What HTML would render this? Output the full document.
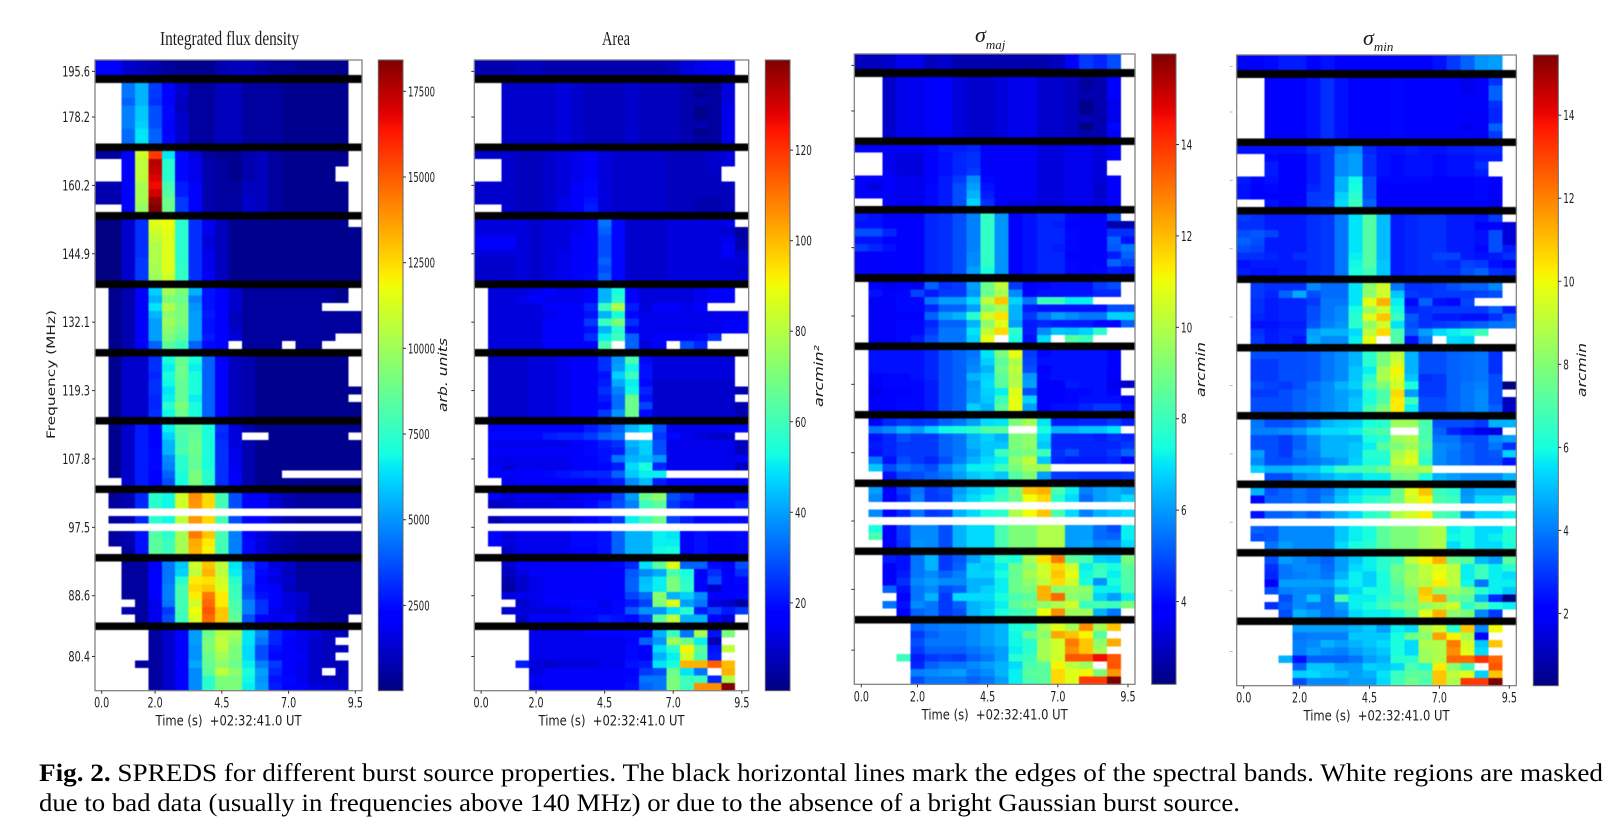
<!DOCTYPE html>
<html lang="en">
<head>
<meta charset="utf-8">
<title>SPREDS for different burst source properties</title>
<style>
html,body{margin:0;padding:0;background:#fff;width:1619px;height:838px;overflow:hidden}
svg{display:block}
text{fill:#1c1c1c}
.tick{font-family:"DejaVu Sans","Liberation Sans",sans-serif;font-size:14px;white-space:pre}
.cbtick{font-family:"DejaVu Sans","Liberation Sans",sans-serif;font-size:13px}
.serif{font-family:"Liberation Serif",serif}
.caption{font-family:"Liberation Serif",serif;font-size:25px;fill:#000}
</style>
</head>
<body>
<svg id="figure" xmlns="http://www.w3.org/2000/svg" width="1619" height="838" viewBox="0 0 1619 838">
<defs id="grads"></defs>
<text class="serif" x="160" y="45" font-size="20" textLength="139" lengthAdjust="spacingAndGlyphs">Integrated flux density</text>
<text class="serif" x="602" y="45" font-size="20" textLength="28" lengthAdjust="spacingAndGlyphs">Area</text>
<text class="serif" x="975" y="42" font-size="22" font-style="italic">σ<tspan font-size="13" dy="7">maj</tspan></text>
<text class="serif" x="1363" y="45" font-size="22" font-style="italic">σ<tspan font-size="13" dy="6">min</tspan></text>
<text font-family="DejaVu Sans" font-size="14" transform="translate(55,439) rotate(-90) scale(1,.8)" textLength="129" lengthAdjust="spacingAndGlyphs">Frequency (MHz)</text>
<text font-family="DejaVu Sans" font-style="italic" font-size="14" transform="translate(447,412) rotate(-90) scale(1,.88)" textLength="74" lengthAdjust="spacingAndGlyphs">arb. units</text>
<text font-family="DejaVu Sans" font-style="italic" font-size="14" transform="translate(823,407) rotate(-90) scale(1,.88)" textLength="62" lengthAdjust="spacingAndGlyphs">arcmin²</text>
<text font-family="DejaVu Sans" font-style="italic" font-size="14" transform="translate(1205,397) rotate(-90) scale(1,.88)" textLength="55" lengthAdjust="spacingAndGlyphs">arcmin</text>
<text font-family="DejaVu Sans" font-style="italic" font-size="14" transform="translate(1586,397) rotate(-90) scale(1,.88)" textLength="54" lengthAdjust="spacingAndGlyphs">arcmin</text>
<text class="caption" x="39" y="781" textLength="1564" lengthAdjust="spacingAndGlyphs"><tspan font-weight="bold">Fig. 2.</tspan> SPREDS for different burst source properties. The black horizontal lines mark the edges of the spectral bands. White regions are masked</text>
<text class="caption" x="39" y="811" textLength="1201" lengthAdjust="spacingAndGlyphs">due to bad data (usually in frequencies above 140 MHz) or due to the absence of a bright Gaussian burst source.</text>
</svg>
<script>
const _ = null;
/* chart data: cell values as a percentage of each panel's colour range; _ = masked */
const bandEdgeRows = [2,11,20,29,38,47,56,65,74];
const freqLabels = ["195.6","178.2","160.2","144.9","132.1","119.3","107.8","97.5","88.6","80.4"];
const freqTickRows = [1,7,16,25,34,43,52,61,70,78];
const timeLabels = ["0.0","2.0","4.5","7.0","9.5"];
const timeTickCols = [0,4,9,14,19];
const fluxTicks = [2500,5000,7500,10000,12500,15000,17500];
const areaTicks = [20,40,60,80,100,120];
const sigmaMajTicks = [4,6,8,10,12,14];
const sigmaMinTicks = [2,4,6,8,10,12,14];
const fluxRange = [12,18413];
const areaRange = [0.6,139.9];
const sigmaMajRange = [2.19,15.98];
const sigmaMinRange = [0.26,15.45];

const fluxCells = [
[12,12,8,7,6,5,4,4,4,6,7,7,6,5,5,4,4,4,4,_],
[12,12,8,7,6,5,4,4,4,6,7,7,6,5,5,4,4,4,4,_],
[_,_,24,30,18,12,8,5,5,7,7,5,5,5,4,4,4,4,4,_],
[_,_,24,30,18,12,8,5,5,7,7,5,5,5,4,4,4,4,4,_],
[_,_,22,30,17,12,7,5,5,7,7,5,5,5,4,4,4,4,4,_],
[_,_,25,32,20,13,7,5,5,7,7,5,5,5,4,4,4,4,4,_],
[_,_,25,32,20,13,8,5,5,7,7,5,5,5,4,4,4,4,4,_],
[_,_,25,33,20,12,8,5,5,7,7,5,5,5,4,4,4,4,4,_],
[_,_,23,35,22,12,8,5,5,7,7,5,5,5,4,4,4,4,4,_],
[_,_,23,35,22,13,8,5,5,7,7,5,5,5,4,4,4,4,4,_],
[5,5,12,60,85,35,13,9,5,4,4,6,7,5,4,4,4,4,4,_],
[_,_,12,58,95,40,13,10,6,5,4,6,7,5,4,4,4,4,4,_],
[_,_,12,58,94,40,13,10,6,5,4,6,7,5,4,4,4,4,_,_],
[_,_,12,58,92,40,13,10,6,5,4,6,7,5,4,4,4,4,_,_],
[6,6,12,55,90,43,15,11,6,5,5,7,7,5,4,4,4,4,4,_],
[6,6,12,55,93,45,15,11,6,5,5,7,7,5,4,4,4,4,4,_],
[6,6,12,55,98,48,18,12,6,5,5,8,7,5,4,4,4,4,4,_],
[_,_,12,53,100,48,18,12,6,5,5,8,7,5,4,4,4,4,4,_],
[3,3,8,17,62,64,40,17,10,7,4,4,4,4,4,4,4,4,4,_],
[3,3,8,17,60,63,40,17,10,7,4,4,4,4,4,4,4,4,4,4],
[3,3,8,17,58,62,40,17,9,7,4,4,4,4,4,4,4,4,4,4],
[3,3,8,17,56,62,40,17,9,7,4,4,4,4,4,4,4,4,4,4],
[3,3,8,17,56,62,40,17,10,7,4,4,4,4,4,4,4,4,4,4],
[3,3,8,18,56,62,40,17,10,7,4,4,4,4,4,4,4,4,4,4],
[3,3,8,18,55,62,41,17,10,7,4,4,4,4,4,4,4,4,4,4],
[3,3,8,18,54,60,41,17,11,7,4,4,4,4,4,4,4,4,4,4],
[_,4,6,11,33,55,50,30,14,12,8,5,5,5,5,5,5,5,4,_],
[_,4,6,11,30,50,48,25,14,12,8,5,5,5,5,5,5,5,4,_],
[_,4,6,11,35,56,50,27,14,12,8,5,5,5,5,5,5,_,_,_],
[_,4,6,11,30,52,50,28,15,12,7,5,5,5,5,5,5,5,5,5],
[_,4,6,11,28,54,50,28,14,12,7,5,5,5,5,5,5,5,5,5],
[_,4,6,11,28,52,48,28,14,12,8,5,5,5,5,5,5,5,5,5],
[_,4,6,11,28,50,46,28,15,12,9,5,5,5,5,5,5,5,_,_],
[_,4,6,11,22,46,42,22,13,12,_,5,5,5,_,5,5,_,_,_],
[_,4,8,8,17,38,47,38,22,12,7,6,4,4,4,4,4,4,4,_],
[_,4,8,8,17,36,48,36,22,12,7,6,4,4,4,4,4,4,4,_],
[_,4,8,8,16,38,48,38,22,12,7,6,4,4,4,4,4,4,4,_],
[_,4,8,8,17,37,47,38,22,12,7,6,4,4,4,4,4,4,4,_],
[_,4,8,8,17,35,47,38,22,12,7,6,4,4,4,4,4,4,4,4],
[_,4,8,8,16,36,47,36,22,12,7,6,4,4,4,4,4,4,4,_],
[_,4,8,8,16,40,50,38,22,12,7,6,4,4,4,4,4,4,4,4],
[_,4,8,8,17,37,48,38,22,12,7,6,4,4,4,4,4,4,4,4],
[_,4,8,15,12,36,45,46,38,17,9,6,4,4,4,4,4,4,4,4],
[_,4,8,15,12,33,44,47,38,16,9,_,_,4,4,4,4,4,4,_],
[_,4,8,15,12,30,43,48,38,17,9,6,4,4,4,4,4,4,4,4],
[_,4,8,15,13,30,44,48,38,17,10,6,4,4,4,4,4,4,4,4],
[_,4,8,15,13,26,40,47,38,17,10,6,4,4,4,4,4,4,4,4],
[_,4,8,15,13,25,40,47,38,17,10,6,4,4,4,4,4,4,4,4],
[_,4,8,15,12,22,38,50,40,17,11,6,4,4,_,_,_,_,_,_],
[_,_,8,15,12,20,38,50,40,17,11,6,4,4,4,4,4,4,4,4],
[_,5,6,16,40,37,60,76,68,43,20,12,12,8,6,5,5,5,5,5],
[_,5,6,16,40,37,60,75,68,43,20,12,12,8,6,5,5,5,5,5],
[_,_,_,_,_,_,_,_,_,_,_,_,_,_,_,_,_,_,_,_],
[_,5,6,16,40,37,58,75,68,43,20,12,12,8,6,5,5,5,5,5],
[_,_,_,_,_,_,_,_,_,_,_,_,_,_,_,_,_,_,_,_],
[_,5,6,14,45,40,55,78,70,43,25,12,9,7,6,5,5,5,5,5],
[_,5,6,14,46,42,55,73,66,43,25,13,9,7,6,5,5,5,5,5],
[_,_,5,14,46,42,55,72,65,43,25,13,9,7,6,5,5,5,5,5],
[_,_,5,5,12,24,32,60,70,58,35,20,14,9,8,5,5,5,5,5],
[_,_,5,5,12,24,33,58,72,58,36,22,13,10,7,5,5,5,5,5],
[_,_,5,5,12,24,40,66,67,60,40,22,12,9,8,5,5,5,5,5],
[_,_,5,5,12,25,44,68,70,62,42,20,13,12,7,5,5,5,5,5],
[_,_,5,5,12,25,43,66,78,66,42,21,14,12,9,8,5,5,5,5],
[_,_,_,5,10,24,43,60,80,66,44,25,17,12,9,8,5,5,5,5],
[_,_,6,5,10,18,43,64,82,70,45,25,17,10,9,7,5,5,5,5],
[_,_,_,5,10,20,42,62,80,70,47,20,12,10,11,7,6,5,5,_],
[_,_,_,_,5,8,12,28,48,57,55,35,26,16,13,10,9,7,7,_],
[_,_,_,_,5,8,12,28,50,58,52,35,24,16,12,10,8,7,_,_],
[_,_,_,_,5,8,12,27,50,58,50,34,20,14,12,10,8,7,7,_],
[_,_,_,_,5,8,12,27,48,54,50,34,20,13,12,11,8,7,_,_],
[_,_,_,5,5,8,12,29,47,52,48,36,25,18,12,10,8,7,7,_],
[_,_,_,_,5,8,12,26,46,58,52,38,28,16,12,10,8,_,7,_],
[_,_,_,_,5,8,12,26,40,50,50,37,27,14,13,10,8,7,7,_],
[_,_,_,_,5,8,12,26,40,50,50,36,28,15,12,11,9,9,8,_]
];

const areaCells = [
[6,6,6,7,7,6,6,6,6,6,6,6,6,6,7,9,10,11,12,_],
[6,6,6,7,7,6,6,6,6,6,6,6,6,6,7,9,10,11,12,_],
[_,_,8,8,8,8,9,8,7,7,7,8,7,7,7,6,5,5,9,_],
[_,_,8,8,8,8,9,8,7,7,7,8,7,7,7,6,4,5,9,_],
[_,_,8,8,8,8,9,8,7,7,7,8,7,7,7,6,6,5,9,_],
[_,_,8,8,8,8,9,8,7,7,7,8,7,7,7,6,4,5,10,_],
[_,_,8,8,8,8,9,8,7,7,7,8,7,7,7,6,4,5,10,_],
[_,_,8,8,8,8,9,8,7,7,7,8,7,7,7,6,6,5,10,_],
[_,_,8,8,8,8,9,8,7,7,7,8,7,7,7,6,4,5,10,_],
[_,_,8,8,8,8,9,8,7,7,7,8,7,7,7,6,5,5,10,_],
[8,8,8,7,7,8,9,10,11,9,8,8,8,8,7,7,7,8,9,_],
[_,_,8,7,7,8,9,10,11,9,8,8,8,8,7,7,7,8,9,_],
[_,_,8,7,7,8,9,10,11,9,8,8,8,8,7,7,7,8,_,_],
[_,_,8,7,7,8,9,10,11,9,8,8,8,8,7,7,7,7,_,_],
[8,8,8,7,7,8,9,11,13,9,8,8,8,8,7,7,7,7,7,_],
[8,8,8,7,7,8,9,11,13,9,8,8,8,8,7,7,7,7,7,_],
[8,8,8,7,7,8,10,12,14,9,8,8,8,8,7,7,6,6,7,_],
[_,_,8,7,7,8,10,12,15,9,8,8,8,8,7,7,6,6,7,_],
[9,9,9,9,8,9,9,10,12,24,13,8,8,8,9,9,9,9,10,_],
[9,9,9,9,8,9,9,10,12,22,13,8,8,8,9,9,9,9,8,5],
[11,11,11,9,8,9,9,11,12,20,13,8,8,8,9,9,9,9,10,6],
[11,11,11,9,8,9,9,11,12,20,13,8,8,8,9,9,9,9,11,6],
[9,9,9,9,8,9,10,11,12,20,13,8,8,8,9,9,9,9,11,8],
[8,8,8,9,8,9,10,11,12,22,13,8,8,8,9,9,9,9,9,9],
[8,8,8,9,8,9,10,11,12,20,13,8,8,8,9,9,9,9,9,8],
[8,8,8,9,8,9,10,11,13,22,13,8,8,8,9,9,9,9,9,9],
[_,9,9,9,10,12,10,10,12,30,38,12,9,9,9,9,10,11,12,_],
[_,9,9,10,12,10,10,10,12,30,40,12,9,9,9,9,10,11,11,_],
[_,9,9,9,9,11,12,12,16,42,56,15,9,12,11,10,12,_,_,_],
[_,9,9,9,9,10,11,11,14,30,38,13,10,10,10,10,10,10,10,10],
[_,9,9,9,9,11,12,12,18,42,50,17,10,10,10,10,10,10,11,12],
[_,9,9,9,9,11,11,11,14,30,40,13,10,10,10,10,10,10,11,12],
[_,9,9,9,9,12,12,12,17,36,42,22,10,12,12,12,13,17,_,_],
[_,9,9,9,9,12,12,12,12,44,_,22,9,12,_,20,16,_,_,_],
[_,8,8,8,9,9,10,11,11,17,27,44,13,9,9,9,9,9,9,_],
[_,8,8,8,9,9,10,11,11,17,28,37,14,9,9,9,9,9,9,_],
[_,8,8,8,9,9,10,11,11,14,33,42,14,9,9,9,9,9,9,_],
[_,8,8,8,9,9,10,11,11,15,29,36,13,8,8,8,8,8,8,_],
[_,8,8,8,9,9,10,11,11,17,25,37,16,8,8,8,8,8,8,6],
[_,8,8,8,9,9,10,11,11,15,23,48,14,8,8,8,8,8,8,_],
[_,8,8,8,9,9,10,11,11,13,23,48,19,8,8,8,8,8,8,6],
[_,8,8,8,9,9,10,11,12,18,27,48,13,8,8,8,8,8,8,6],
[_,11,11,11,11,11,11,12,15,18,22,30,35,20,10,10,10,10,11,12],
[_,13,13,13,13,15,16,16,18,22,24,_,_,18,13,10,9,8,8,_],
[_,10,10,10,10,10,10,11,13,15,17,30,33,20,10,10,10,10,10,7],
[_,11,11,11,11,11,11,11,13,14,15,28,33,20,10,10,10,10,10,7],
[_,10,10,10,10,10,10,11,12,14,24,30,31,27,10,10,10,10,10,11],
[_,11,9,10,10,10,10,11,12,13,15,34,38,16,10,10,10,10,10,7],
[_,12,12,12,12,13,14,15,16,16,22,32,36,36,_,_,_,_,_,_],
[_,_,10,11,11,11,12,12,12,14,15,26,31,15,12,12,12,12,12,12],
[_,12,9,10,10,10,9,10,11,13,19,28,48,52,20,17,12,12,12,12],
[_,7,8,9,9,9,10,10,13,16,20,25,42,46,18,14,12,12,12,15],
[_,_,_,_,_,_,_,_,_,_,_,_,_,_,_,_,_,_,_,_],
[_,6,8,8,8,8,8,10,12,14,18,36,42,48,19,15,12,12,13,13],
[_,_,_,_,_,_,_,_,_,_,_,_,_,_,_,_,_,_,_,_],
[_,12,9,10,10,10,10,13,13,14,22,30,30,36,35,12,14,12,12,13],
[_,12,9,10,10,10,10,13,13,14,22,30,30,36,36,12,14,12,12,13],
[_,_,8,10,10,10,10,12,12,14,22,30,30,37,38,12,14,12,12,13],
[_,_,8,11,11,11,11,11,11,12,13,16,35,46,62,22,22,13,11,20],
[_,_,7,9,11,11,11,11,11,11,12,21,26,29,44,38,12,17,12,17],
[_,_,6,8,10,11,11,11,11,11,12,22,31,36,50,40,12,20,12,13],
[_,_,5,8,10,11,11,11,11,11,12,22,32,36,50,41,12,8,12,12],
[_,_,9,10,10,11,11,11,11,11,12,19,23,52,30,33,26,12,12,13],
[_,_,_,8,10,11,11,13,13,10,13,15,19,50,62,28,24,9,8,5],
[_,_,8,9,9,9,9,11,12,11,13,21,27,27,35,40,15,19,15,18],
[_,_,_,8,11,11,11,12,13,15,14,13,18,46,58,30,30,11,9,_],
[_,_,_,_,10,10,10,10,11,12,12,13,13,30,42,24,55,14,50,_],
[_,_,_,_,10,10,10,10,10,10,10,12,22,27,55,48,36,6,_,_],
[_,_,_,_,10,10,10,10,10,10,10,13,12,34,40,65,46,14,58,_],
[_,_,_,_,10,10,10,10,10,10,10,13,11,30,36,60,44,15,_,_],
[_,_,_,15,9,8,9,9,9,10,10,14,15,35,38,72,72,81,71,_],
[_,_,_,_,9,11,11,11,11,11,11,12,18,20,48,35,24,_,72,_],
[_,_,_,_,11,11,11,11,11,11,11,13,24,24,50,42,42,16,56,_],
[_,_,_,_,10,11,11,11,11,11,11,14,22,24,50,42,76,76,100,_]
];

const sigmaMajCells = [
[7,7,8,10,10,7,8,6,6,6,6,6,6,6,7,11,18,16,20,_],
[7,7,8,10,10,7,8,6,6,6,6,6,6,6,7,11,18,16,20,_],
[_,_,8,10,10,11,12,9,8,8,9,10,10,8,8,7,5,6,11,_],
[_,_,8,10,10,11,12,9,8,8,9,10,10,8,8,7,5,6,11,_],
[_,_,8,10,10,11,12,9,8,8,9,10,10,8,8,7,6,6,12,_],
[_,_,8,10,10,11,12,9,8,8,9,10,10,8,8,7,4,6,10,_],
[_,_,8,10,10,11,12,9,8,8,9,10,10,8,8,7,4,6,10,_],
[_,_,8,10,10,11,12,9,8,8,9,10,10,8,8,7,7,6,10,_],
[_,_,8,10,10,11,12,9,8,8,9,10,10,8,8,7,3,6,13,_],
[_,_,8,10,10,11,12,9,8,8,9,10,10,8,8,7,6,6,11,_],
[11,11,11,11,11,13,15,15,16,11,11,11,11,9,9,10,10,9,11,_],
[_,_,10,9,9,12,14,16,17,11,11,11,11,9,9,10,10,9,11,_],
[_,_,10,9,9,12,14,16,17,11,11,11,11,9,9,10,10,9,_,_],
[_,_,10,9,9,12,14,16,18,11,11,11,11,9,9,10,10,9,_,_],
[11,11,11,10,10,12,15,18,26,13,11,11,11,9,9,10,10,9,11,_],
[11,9,11,10,10,13,15,20,28,14,11,11,11,9,9,10,10,8,11,_],
[11,11,11,10,10,13,15,20,30,15,11,11,11,9,9,10,10,8,11,_],
[_,_,11,10,10,13,15,20,33,17,11,10,10,9,9,10,10,9,11,_],
[15,14,12,12,12,16,17,20,25,41,27,12,14,16,16,13,12,11,20,_],
[14,14,12,12,12,16,17,20,25,41,27,12,14,16,15,12,11,11,6,6],
[20,20,16,12,12,16,17,20,25,41,27,12,14,16,16,13,12,11,17,17],
[14,14,12,12,12,16,17,20,25,41,27,12,14,16,16,13,12,11,22,14],
[18,16,14,12,12,16,17,20,25,41,27,12,14,16,15,13,12,11,21,24],
[11,11,12,12,12,16,17,20,26,41,27,12,14,16,16,11,11,12,15,22],
[11,11,12,12,12,16,17,20,26,41,27,12,14,16,16,13,12,11,22,19],
[11,11,12,12,12,16,17,20,28,38,27,12,14,16,16,13,12,13,15,14],
[_,12,10,11,10,22,17,18,28,48,58,18,12,13,14,14,14,18,20,_],
[_,14,11,13,19,15,18,18,27,48,55,26,11,14,14,14,14,16,16,_],
[_,11,11,13,13,24,28,28,34,58,70,33,24,42,42,36,36,_,_,_],
[_,11,11,13,13,16,22,22,28,50,55,30,15,14,14,14,14,14,20,20],
[_,11,11,12,12,22,28,30,40,60,67,30,18,24,28,26,24,24,33,33],
[_,11,11,13,13,16,22,22,30,52,62,28,15,16,15,15,15,13,13,22],
[_,11,11,13,13,18,24,24,35,58,68,40,15,26,32,31,33,40,_,_],
[_,11,11,13,15,20,24,24,33,63,_,38,14,34,_,45,42,_,_,_],
[_,14,14,14,14,16,20,22,24,35,50,63,18,13,14,14,14,14,12,_],
[_,14,14,14,14,16,20,22,25,33,46,56,19,14,14,14,14,14,12,_],
[_,14,14,14,14,16,20,22,26,30,48,58,20,11,14,14,14,14,12,_],
[_,12,13,13,14,16,20,22,30,33,46,56,27,13,14,14,14,14,11,_],
[_,11,13,13,13,15,20,22,27,34,46,57,28,12,11,15,14,14,10,8],
[_,10,12,12,13,15,20,22,28,33,36,62,20,12,12,13,13,14,11,_],
[_,12,12,13,13,15,20,22,28,32,42,63,33,11,12,13,14,14,14,12],
[_,11,12,13,13,15,20,22,33,30,46,63,28,12,14,14,16,18,18,14],
[_,12,16,18,17,18,22,24,28,34,35,50,55,35,15,15,16,16,18,15],
[_,24,26,30,28,33,37,38,40,45,46,_,_,38,30,30,32,32,35,_],
[_,14,16,20,18,18,22,24,30,33,30,50,52,34,16,16,16,15,17,16],
[_,15,16,18,18,18,22,24,30,32,32,50,52,32,16,16,16,16,16,18],
[_,14,16,18,18,18,22,24,28,32,42,48,50,42,17,20,16,16,18,22],
[_,24,14,20,18,16,20,25,30,34,36,52,58,32,16,15,15,15,16,12],
[_,32,20,24,22,20,26,30,36,36,42,50,55,55,_,_,_,_,_,_],
[_,_,14,19,20,22,24,28,32,34,32,45,50,28,18,18,17,17,17,18],
[_,28,12,18,24,18,20,28,32,34,40,50,70,72,44,36,25,28,30,28],
[_,26,11,16,25,18,19,30,34,37,42,48,64,68,40,34,23,28,30,34],
[_,_,_,_,_,_,_,_,_,_,_,_,_,_,_,_,_,_,_,_],
[_,26,12,16,24,18,19,30,34,38,40,56,64,70,44,34,25,30,32,34],
[_,_,_,_,_,_,_,_,_,_,_,_,_,_,_,_,_,_,_,_],
[_,38,12,18,26,26,20,30,34,34,44,50,50,56,56,28,28,23,20,36],
[_,44,12,18,26,26,20,30,34,34,44,50,50,56,56,28,28,23,22,36],
[_,_,12,17,27,26,20,30,34,34,44,50,50,56,56,28,29,25,26,34],
[_,_,15,14,24,30,18,21,28,33,40,38,55,67,78,46,44,33,32,50],
[_,_,11,14,24,30,18,22,33,32,36,48,52,60,68,60,36,42,38,46],
[_,_,12,15,24,26,22,25,33,33,38,47,55,60,70,63,37,42,36,45],
[_,_,11,17,26,28,26,26,30,30,36,48,52,58,68,60,38,27,38,44],
[_,_,22,14,24,26,20,22,30,33,36,48,50,72,52,54,52,36,36,44],
[_,_,_,12,24,30,18,34,34,34,38,44,46,72,80,52,50,33,28,36],
[_,_,24,14,26,24,18,22,30,32,36,46,50,52,56,60,42,44,42,50],
[_,_,_,12,22,24,18,20,30,33,38,42,44,64,76,54,54,30,24,_],
[_,_,_,_,22,24,25,25,26,28,30,38,40,55,62,55,76,55,70,_],
[_,_,_,_,18,22,24,24,26,28,30,37,48,52,73,70,65,46,_,_],
[_,_,_,_,20,24,24,24,26,28,30,37,40,55,60,78,70,52,73,_],
[_,_,_,_,18,22,22,22,24,26,28,36,40,55,60,76,70,55,_,_],
[_,_,_,42,15,18,19,18,22,24,28,40,42,55,60,82,82,90,82,_],
[_,_,_,_,16,22,24,24,26,28,30,34,44,46,65,58,54,_,82,_],
[_,_,_,_,25,26,27,28,24,26,30,36,46,46,68,62,65,50,75,_],
[_,_,_,_,20,24,24,24,22,24,28,36,44,46,68,62,85,85,100,_]
];

const sigmaMinCells = [
[12,12,13,15,15,12,14,12,12,12,12,12,12,12,14,18,22,27,28,_],
[12,12,13,15,15,12,14,12,12,12,12,12,12,12,14,18,22,27,28,_],
[_,_,12,12,12,14,17,14,12,12,12,13,12,12,12,12,10,11,17,_],
[_,_,12,12,12,14,17,14,12,12,12,13,12,12,12,12,10,11,22,_],
[_,_,12,12,12,14,17,14,12,12,12,13,12,12,12,12,11,11,22,_],
[_,_,12,12,12,14,17,14,12,12,12,13,12,12,12,12,11,12,17,_],
[_,_,12,12,12,14,17,14,12,12,12,13,12,12,12,12,11,11,16,_],
[_,_,12,12,12,14,17,14,12,12,12,13,12,12,12,12,11,11,16,_],
[_,_,12,12,12,14,17,14,12,12,12,13,12,12,12,12,10,11,22,_],
[_,_,12,12,12,14,17,14,12,12,12,13,12,12,12,12,12,11,18,_],
[14,14,14,14,14,17,18,24,26,16,14,14,15,14,14,15,15,16,16,_],
[_,_,13,12,12,15,18,26,28,17,14,13,14,14,13,14,14,15,15,_],
[_,_,15,12,12,15,18,26,28,17,14,13,14,14,13,14,14,17,_,_],
[_,_,15,12,12,15,18,26,28,17,14,13,14,14,13,14,14,15,_,_],
[15,13,14,12,12,15,18,30,37,20,13,13,13,13,12,12,12,13,12,_],
[14,12,13,12,12,16,18,30,38,20,12,12,12,12,12,12,12,13,11,_],
[14,12,12,12,12,18,18,33,40,20,12,12,12,12,12,12,12,13,11,_],
[_,_,14,12,13,18,19,34,42,22,12,12,12,12,11,12,12,12,10,_],
[18,17,15,15,15,17,18,24,35,45,31,15,16,17,17,15,15,14,18,_],
[17,17,15,15,15,17,18,24,35,45,31,15,16,17,17,15,15,12,12,9],
[20,21,19,15,15,17,18,24,35,45,31,15,16,17,17,15,15,14,20,9],
[22,20,15,15,15,17,18,24,35,45,31,15,16,17,17,15,15,14,20,9],
[20,19,15,15,15,17,18,24,35,45,31,15,16,17,17,15,15,13,20,15],
[17,17,16,15,17,17,18,24,36,45,31,15,16,17,19,19,15,14,15,17],
[14,15,15,15,15,17,18,24,37,45,32,15,16,17,17,16,19,18,14,11],
[15,14,14,15,15,17,18,24,38,42,32,15,16,17,17,17,20,22,17,16],
[_,18,17,17,17,26,23,23,35,52,60,24,17,17,18,20,22,22,26,_],
[_,18,16,22,29,20,23,23,35,52,60,32,18,17,18,18,18,19,20,_],
[_,17,15,16,16,18,24,24,35,63,72,36,13,22,14,13,19,_,_,_],
[_,17,15,16,16,20,24,26,38,54,60,38,16,17,18,18,18,18,22,15],
[_,16,15,16,16,20,24,26,40,62,70,42,21,17,15,15,14,14,17,22],
[_,14,14,15,15,21,25,27,40,52,60,35,20,17,18,19,21,22,24,24],
[_,17,15,16,16,28,30,30,34,58,68,44,22,28,34,36,38,42,_,_],
[_,18,15,16,14,29,26,26,36,63,_,45,14,24,_,34,33,_,_,_],
[_,20,20,20,20,21,24,26,30,40,50,58,30,20,20,22,23,24,17,_],
[_,18,18,20,20,21,24,26,30,40,50,60,30,20,20,22,23,24,17,_],
[_,18,18,20,20,21,24,26,32,36,55,65,30,20,20,22,23,24,17,_],
[_,18,18,20,20,21,24,26,32,40,56,62,32,17,18,22,23,24,20,_],
[_,20,19,18,20,24,26,30,33,44,50,60,38,18,18,22,24,25,20,3],
[_,18,18,20,22,23,26,28,30,38,44,68,28,18,18,22,24,26,20,_],
[_,20,20,20,22,24,26,28,32,38,45,66,42,20,20,22,24,26,20,7],
[_,20,20,20,22,24,26,28,32,43,50,66,36,20,20,22,24,26,22,8],
[_,24,20,20,22,25,30,32,33,38,40,54,54,44,20,20,20,18,30,30],
[_,25,25,26,28,32,34,34,36,42,44,_,_,44,22,16,14,10,9,_],
[_,20,20,18,22,26,30,30,30,38,40,54,56,44,24,24,20,20,26,28],
[_,20,20,18,22,26,30,30,32,36,46,50,54,46,26,25,22,20,24,17],
[_,28,20,18,24,25,30,30,32,40,40,55,60,42,26,24,22,20,21,33],
[_,26,20,20,22,24,26,28,33,38,38,58,62,40,26,24,22,20,20,14],
[_,33,30,30,32,32,36,42,42,44,48,54,54,56,_,_,_,_,_,_],
[_,_,20,20,26,28,30,33,32,36,36,48,50,38,30,28,26,26,26,30],
[_,30,20,22,24,22,24,30,34,36,36,48,62,70,42,40,27,30,30,30],
[_,12,22,22,24,22,26,32,36,40,42,48,60,65,44,42,28,34,34,40],
[_,_,_,_,_,_,_,_,_,_,_,_,_,_,_,_,_,_,_,_],
[_,14,22,22,24,22,26,30,34,40,42,56,60,65,44,42,28,34,34,36],
[_,_,_,_,_,_,_,_,_,_,_,_,_,_,_,_,_,_,_,_],
[_,22,21,26,26,26,26,32,36,38,46,50,50,54,56,36,38,34,34,38],
[_,20,21,26,26,26,26,32,36,38,46,50,50,54,56,37,38,34,36,40],
[_,_,24,28,26,26,26,34,38,40,46,50,50,54,56,34,38,34,34,38],
[_,_,20,28,26,24,22,28,32,36,40,42,58,65,72,48,46,31,28,46],
[_,_,17,24,26,26,23,28,34,36,40,48,52,58,62,58,36,42,36,40],
[_,_,16,24,25,26,24,30,36,33,38,48,54,58,64,58,36,42,36,34],
[_,_,12,28,28,28,28,34,36,33,38,46,54,56,66,58,37,24,36,36],
[_,_,20,25,26,26,25,30,34,38,38,44,50,70,52,54,50,40,36,32],
[_,_,_,20,26,32,24,44,36,36,40,42,48,68,74,48,46,30,16,3],
[_,_,17,22,26,24,24,28,36,38,42,48,50,52,56,60,40,46,38,36],
[_,_,_,20,30,28,24,26,34,36,36,38,46,62,72,52,50,26,18,_],
[_,_,_,_,28,28,28,28,30,32,28,36,34,55,60,40,70,26,64,_],
[_,_,_,_,24,25,25,25,32,32,32,38,48,52,74,65,56,11,_,_],
[_,_,_,_,25,26,30,28,30,32,34,38,34,56,56,78,60,32,70,_],
[_,_,_,_,25,28,26,25,28,30,32,38,34,54,56,76,62,34,_,_],
[_,_,_,30,14,22,22,22,24,28,30,40,40,54,56,80,80,86,80,_],
[_,_,_,_,22,32,32,28,28,33,32,34,44,40,66,52,42,_,82,_],
[_,_,_,_,33,34,32,31,28,30,35,42,46,46,70,58,62,33,70,_],
[_,_,_,_,20,26,26,26,28,28,34,42,48,44,70,56,85,85,100,_]
];

/* layout */
const NS = "http://www.w3.org/2000/svg";
const svg = document.getElementById("figure");
const defs = document.getElementById("grads");
const ROWS = 83, COLS = 20;

const panels = [
  {id:"flux", cells:fluxCells, range:fluxRange, ticks:fluxTicks, x0:95, x1:362, y0:60, y1:690.7, cx0:378.3, cx1:403, yLabels:true, tickStyle:"dark", cbDigit:5.4},
  {id:"area", cells:areaCells, range:areaRange, ticks:areaTicks, x0:474.3, x1:748.7, y0:60, y1:690.7, cx0:765.3, cx1:790, yLabels:false, tickStyle:"dark", cbDigit:5.6},
  {id:"sigma-maj", cells:sigmaMajCells, range:sigmaMajRange, ticks:sigmaMajTicks, x0:854.3, x1:1135, y0:54, y1:684.3, cx0:1151.7, cx1:1176, yLabels:false, tickStyle:"dark", cbDigit:5.6},
  {id:"sigma-min", cells:sigmaMinCells, range:sigmaMinRange, ticks:sigmaMinTicks, x0:1236.7, x1:1516.3, y0:55, y1:685.7, cx0:1533.3, cx1:1558.3, yLabels:false, tickStyle:"faint", cbDigit:5.6}
];

function jet(t){
  t = Math.max(0, Math.min(1, t));
  const r = t < .35 ? 0 : t < .66 ? (t - .35) / .31 : t < .89 ? 1 : 1 - (t - .89) / .11 * .5;
  const g = t < .125 ? 0 : t < .375 ? (t - .125) / .25 : t < .64 ? 1 : t < .91 ? 1 - (t - .64) / .27 : 0;
  const b = t < .11 ? .5 + t / .11 * .5 : t < .34 ? 1 : t < .65 ? 1 - (t - .34) / .31 : 0;
  return "rgb(" + Math.round(r * 255) + "," + Math.round(g * 255) + "," + Math.round(b * 255) + ")";
}
/* darkest levels read slightly bright by eye; calibrate them onto the colour scale */
function levelToScale(v){
  return v >= 12 ? v / 100 : Math.max(0, (v - 3) / 9 * .12);
}
function make(tag, attrs, parent){
  const el = document.createElementNS(NS, tag);
  for (const k in attrs) el.setAttribute(k, attrs[k]);
  parent.appendChild(el);
  return el;
}
function labelWidth(s, digit, dot){
  let w = 0;
  for (const c of s) w += c === "." ? dot : digit;
  return w;
}

panels.forEach(function(p){
  const xScale = function(c){ return p.x0 + (p.x1 - p.x0) * c / COLS; };
  const yScale = function(r){ return p.y0 + (p.y1 - p.y0) * r / ROWS; };
  const cbScale = function(v){ return p.y1 - (v - p.range[0]) / (p.range[1] - p.range[0]) * (p.y1 - p.y0); };

  const g = make("g", {"shape-rendering":"crispEdges", style:"filter:blur(.5px)"}, svg);
  
  

  let dataIndex = 0;
  for (let r = 0; r < ROWS; r++){
    if (bandEdgeRows.indexOf(r) >= 0){
      const edge = make("rect", {x:p.x0, y:yScale(r), width:p.x1 - p.x0, height:yScale(r + 1) - yScale(r), fill:"#000"}, g);
      
      
      continue;
    }
    const row = p.cells[dataIndex++];
    for (let c = 0; c < COLS; c++){
      const v = row[c];
      if (v === null || v === undefined) continue;
      const cell = make("rect", {x:xScale(c), y:yScale(r), width:xScale(c + 1) - xScale(c), height:yScale(r + 1) - yScale(r), fill:jet(levelToScale(v))}, g);
      
      
    }
  }

  const frame = make("rect", {x:p.x0, y:p.y0, width:p.x1 - p.x0, height:p.y1 - p.y0, fill:"none", stroke:"#7a7a7a", "stroke-width":1.2}, svg);
  
  

  freqTickRows.forEach(function(r, i){
    const y = yScale(r + .5);
    const faint = p.tickStyle === "faint";
    const mark = make("line", {x1:p.x0 - (faint ? 7 : 3), x2:p.x0 - (faint ? 4 : 0), y1:y, y2:y, stroke:faint ? "#bbb" : "#333", "stroke-width":1}, svg);
    
    
    if (p.yLabels){
      const w = labelWidth(freqLabels[i], 6.2, 3);
      const lab = make("text", {"class":"tick", x:p.x0 - 5 - w, y:y + 5, textLength:w, lengthAdjust:"spacingAndGlyphs"}, svg);
      lab.textContent = freqLabels[i];
      
      
    }
  });

  timeTickCols.forEach(function(c, i){
    const x = xScale(c + .5);
    const mark = make("line", {x1:x, x2:x, y1:p.y1, y2:p.y1 + 3, stroke:"#333", "stroke-width":1}, svg);
    
    
    const lab = make("text", {"class":"tick", x:x - 7.6, y:p.y1 + 17, textLength:15.2, lengthAdjust:"spacingAndGlyphs"}, svg);
    lab.textContent = timeLabels[i];
    
    
  });

  const cx = (p.x0 + p.x1) / 2;
  const xTitle = make("text", {"class":"tick", x:cx - 73, y:p.y1 + 35, textLength:146, lengthAdjust:"spacingAndGlyphs"}, svg);
  xTitle.textContent = "Time (s)  +02:32:41.0 UT";
  
  

  const grad = make("linearGradient", {id:"cmap-" + p.id, x1:0, y1:1, x2:0, y2:0}, defs);
  for (let i = 0; i <= 64; i++){
    make("stop", {offset:i / 64, "stop-color":jet(i / 64)}, grad);
  }
  const bar = make("rect", {x:p.cx0, y:p.y0, width:p.cx1 - p.cx0, height:p.y1 - p.y0, fill:"url(#cmap-" + p.id + ")", stroke:"#666", "stroke-width":1}, svg);
  
  

  p.ticks.forEach(function(v){
    const y = cbScale(v);
    const mark = make("line", {x1:p.cx1, x2:p.cx1 + 3, y1:y, y2:y, stroke:"#333", "stroke-width":1}, svg);
    
    
    const s = String(v);
    const lab = make("text", {"class":"cbtick", x:p.cx1 + 5, y:y + 5, textLength:s.length * p.cbDigit, lengthAdjust:"spacingAndGlyphs"}, svg);
    lab.textContent = s;
    
    
  });
});
</script>
</body>
</html>
